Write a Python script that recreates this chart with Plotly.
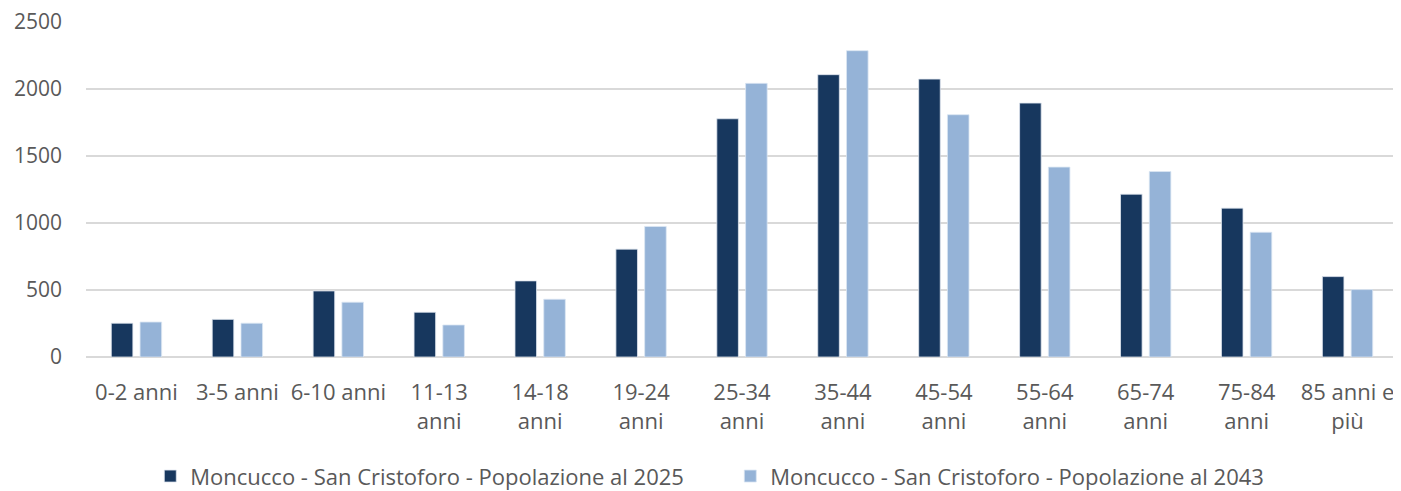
import plotly.graph_objects as go

categories = ["0-2 anni", "3-5 anni", "6-10 anni", "11-13<br>anni", "14-18<br>anni",
              "19-24<br>anni", "25-34<br>anni", "35-44<br>anni", "45-54<br>anni",
              "55-64<br>anni", "65-74<br>anni", "75-84<br>anni", "85 anni e<br>più"]
pop_2025 = [252, 281, 493, 334, 568, 805, 1778, 2107, 2074, 1895, 1215, 1111, 600]
pop_2043 = [261, 252, 409, 239, 431, 974, 2042, 2286, 1808, 1417, 1384, 931, 503]
name_2025 = "Moncucco - San Cristoforo - Popolazione al 2025"
name_2043 = "Moncucco - San Cristoforo - Popolazione al 2043"
y_ticks = [0, 500, 1000, 1500, 2000, 2500]

FONT = "Open Sans"
GREY = "#595959"

fig = go.Figure()
fig.add_trace(go.Bar(x=categories, y=pop_2025, name=name_2025,
                     marker=dict(color="#17375e", line=dict(color="#dfe6ef", width=0.8))))
fig.add_trace(go.Bar(x=categories, y=pop_2043, name=name_2043,
                     marker=dict(color="#95b3d7", line=dict(color="#dbe6f3", width=0.8))))

# page body has an 8px margin: the figure is sized to fill the rest of the window
fig.update_layout(
    width=1393, height=483,
    margin=dict(l=78, r=3, t=14, b=134, autoexpand=False),
    paper_bgcolor="white", plot_bgcolor="white",
    barmode="group", bargap=0.43, bargroupgap=0.25,
    font=dict(family=FONT, size=22, color=GREY),
    showlegend=True,
    legend=dict(orientation="h", x=0.049, xanchor="left", y=-0.356, yanchor="middle",
                font=dict(family=FONT, size=22, color=GREY), traceorder="normal",
                itemwidth=30, tracegroupgap=0, entrywidth=535, entrywidthmode="pixels"),
    xaxis=dict(showgrid=False, showline=False, ticks="", tickangle=0,
               ticklabelstandoff=20,
               tickfont=dict(family=FONT, size=22, color=GREY)),
    yaxis=dict(range=[0, 2500], tickvals=y_ticks, showgrid=True, gridcolor="#d9d9d9",
               gridwidth=1.5, zeroline=True, zerolinecolor="#d9d9d9", zerolinewidth=1.5,
               showline=False, ticks="", ticklabelstandoff=23, ticklabeloverflow="allow",
               tickfont=dict(family=FONT, size=21, color=GREY)),
)

fig.write_html("out.html")
